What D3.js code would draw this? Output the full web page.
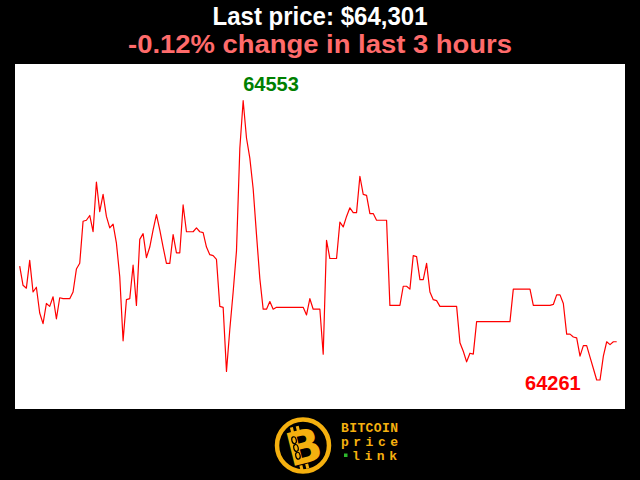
<!DOCTYPE html>
<html><head><meta charset="utf-8">
<script src="https://cdn.jsdelivr.net/npm/d3@7"></script>
<style>html,body{margin:0;padding:0;background:#000;}svg{display:block;}</style>
</head><body>
<script>
// price per minute over the last 3 hours (180 samples)
const prices = [
64380,64360,64357,64386,64353,64358,64331,64320,64341,64338,
64348,64325,64347,64346,64346,64346,64353,64377,64383,64427,
64428,64433,64416,64468,64437,64455,64432,64420,64424,64404,
64369,64302,64345,64346,64381,64339,64408,64414,64389,64400,
64418,64434,64418,64400,64383,64383,64413,64394,64394,64444,
64416,64416,64416,64420,64416,64415,64400,64392,64391,64387,
64338,64337,64270,64314,64353,64396,64503,64553,64514,64493,
64461,64413,64367,64335,64335,64343,64335,64337,64337,64337,
64337,64337,64337,64337,64337,64337,64329,64346,64335,64335,
64335,64288,64407,64388,64388,64388,64426,64421,64432,64441,
64436,64436,64474,64455,64454,64435,64435,64428,64428,64428,
64428,64339,64339,64339,64339,64359,64359,64356,64391,64390,
64366,64366,64383,64353,64345,64344,64338,64338,64338,64338,
64338,64338,64300,64291,64280,64289,64288,64322,64322,64322,
64322,64322,64322,64322,64322,64322,64322,64322,64356,64356,
64356,64356,64356,64356,64339,64339,64339,64339,64339,64339,
64340,64350,64350,64341,64309,64309,64306,64305,64286,64297,
64297,64285,64273,64261,64261,64286,64301,64298,64301,64301
];
const minutes = d3.range(prices.length);
const titleText = "Last price: $64,301";
const changeText = "-0.12% change in last 3 hours";
const logoWords = ["BITCOIN", "price", "link"];

const W = 640, H = 480;
const svg = d3.select("body").append("svg").attr("width", W).attr("height", H)
  .style("background", "#000");

// titles
svg.append("text").attr("x", 320).attr("y", 24.5).attr("text-anchor", "middle")
  .attr("font-family", "'Liberation Sans', Arial, sans-serif").attr("font-weight", 700)
  .attr("font-size", 25).attr("fill", "#fff")
  .attr("textLength", 215).attr("lengthAdjust", "spacingAndGlyphs")
  .text(titleText);
svg.append("text").attr("x", 320).attr("y", 53).attr("text-anchor", "middle")
  .attr("font-family", "'Liberation Sans', Arial, sans-serif").attr("font-weight", 700)
  .attr("font-size", 25.5).attr("fill", "#ff6b6b")
  .attr("textLength", 384).attr("lengthAdjust", "spacingAndGlyphs")
  .text(changeText);

// plot area
svg.append("rect").attr("x", 15).attr("y", 64).attr("width", 610).attr("height", 345)
  .attr("fill", "#fff");

const x = d3.scaleLinear().domain([0, prices.length - 1]).range([19.7, 616.7]);
const lo = d3.min(prices), hi = d3.max(prices);
const y = d3.scaleLinear().domain([lo, hi]).range([380, 100.7]);

const line = d3.line().x((d, i) => x(minutes[i])).y(d => y(d));
svg.append("path").datum(prices).attr("d", line)
  .attr("fill", "none").attr("stroke", "#ff0000").attr("stroke-width", 1.2)
  .attr("stroke-linejoin", "round");

const iMax = d3.maxIndex(prices), iMin = d3.minIndex(prices);
svg.append("text").attr("x", x(iMax)).attr("y", y(hi) - 10)
  .attr("font-family", "'Liberation Sans', Arial, sans-serif").attr("font-weight", 700)
  .attr("font-size", 20).attr("fill", "#008000").text(hi);
svg.append("text").attr("x", x(iMin) - 16).attr("y", y(lo) + 10)
  .attr("text-anchor", "end")
  .attr("font-family", "'Liberation Sans', Arial, sans-serif").attr("font-weight", 700)
  .attr("font-size", 20).attr("fill", "#ff0000").text(lo);

// logo
const gold = "#f5b00f";
const logo = svg.append("g");
logo.append("circle").attr("cx", 303).attr("cy", 445.5).attr("r", 26)
  .attr("fill", "#000").attr("stroke", gold).attr("stroke-width", 4.5);
const bg = logo.append("g").attr("transform", "translate(304,447) rotate(-14)");
bg.append("text").attr("x", 0).attr("y", 16).attr("text-anchor", "middle")
  .attr("font-family", "'DejaVu Sans', sans-serif").attr("font-weight", 700)
  .attr("font-size", 46).attr("fill", gold).text("B");
bg.selectAll("rect.tick").data([[-9, -22], [-3, -22], [-9, 17], [-3, 17]]).join("rect")
  .attr("x", d => d[0]).attr("y", d => d[1]).attr("width", 3).attr("height", 5).attr("fill", gold);
bg.selectAll("ellipse").data([-9, -1, 7]).join("ellipse")
  .attr("cx", -8).attr("cy", d => d).attr("rx", 2.2).attr("ry", 3.5)
  .attr("fill", "none").attr("stroke", "#000").attr("stroke-width", 1.2);

const wordY = [432, 446, 460];
logo.selectAll("text.word").data(logoWords).join("text").attr("class", "word")
  .attr("x", (d, i) => i === 2 ? 352 : 341).attr("y", (d, i) => wordY[i])
  .attr("font-family", "'Liberation Mono', 'DejaVu Sans Mono', monospace").attr("font-weight", 700)
  .attr("font-size", 13).attr("fill", gold)
  .attr("textLength", (d, i) => i === 2 ? 45 : 57).attr("lengthAdjust", "spacing")
  .text(d => d);
logo.append("rect").attr("x", 344).attr("y", 453.5).attr("width", 3.5).attr("height", 3.5)
  .attr("fill", "#2db82d");
</script>
</body></html>
